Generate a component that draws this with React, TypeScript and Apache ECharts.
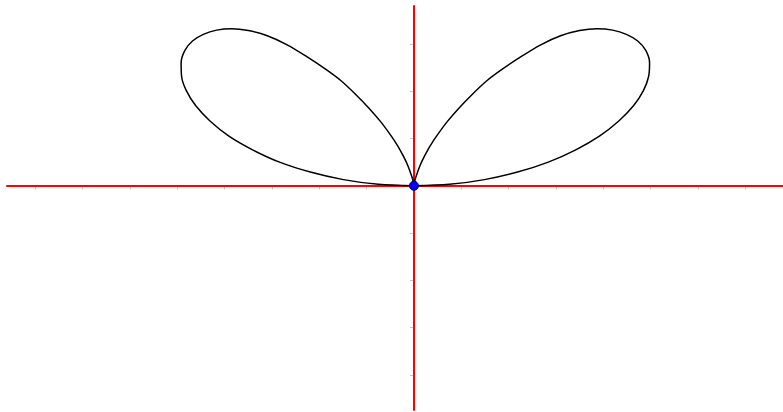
import React, { useEffect, useRef } from "react";
import * as echarts from "echarts";

// Axis extents (units) and tick positions
const xRange = [-8.6, 7.8];
const yRange = [-4.74, 3.8];
const xTicks = [-8, -7, -6, -5, -4, -3, -2, -1, 1, 2, 3, 4, 5, 6, 7];
const yTicks = [-4, -3, -2, -1, 1, 2, 3];

// Curve points (x, y) in axis units
const rightLobe: number[][] = [
  [0, 0], [0.75, 0.03], [1.49, 0.13], [2.19, 0.29], [2.84, 0.5], [3.42, 0.76],
  [3.92, 1.05], [4.33, 1.37], [4.64, 1.69], [4.85, 2.01], [4.96, 2.31],
  [4.98, 2.6], [4.9, 2.86], [4.73, 3.06], [4.49, 3.2], [4.2, 3.29],
  [3.87, 3.32], [3.5, 3.28], [3.1, 3.17], [2.68, 2.98], [2.28, 2.74],
  [1.86, 2.46], [1.54, 2.22], [1.22, 1.92], [0.94, 1.63], [0.7, 1.35],
  [0.5, 1.08], [0.34, 0.84], [0.22, 0.62], [0.13, 0.43], [0.075, 0.28],
  [0.03, 0.15], [0.01, 0.06], [0, 0],
];
const leftLobe: number[][] = [
  [0, 0], [-0.01, 0.06], [-0.03, 0.15], [-0.075, 0.28], [-0.13, 0.43],
  [-0.22, 0.62], [-0.34, 0.84], [-0.5, 1.08], [-0.7, 1.35], [-0.94, 1.63],
  [-1.22, 1.92], [-1.54, 2.22], [-1.86, 2.46], [-2.28, 2.74], [-2.68, 2.98],
  [-3.1, 3.17], [-3.5, 3.28], [-3.85, 3.32], [-4.17, 3.29], [-4.45, 3.2],
  [-4.68, 3.06], [-4.84, 2.86], [-4.92, 2.6], [-4.91, 2.31], [-4.81, 2.01],
  [-4.61, 1.69], [-4.31, 1.37], [-3.91, 1.05], [-3.41, 0.76], [-2.84, 0.5],
  [-2.19, 0.29], [-1.49, 0.13], [-0.75, 0.03], [0, 0],
];
const originPoint: number[][] = [[0, 0]];

export default function App() {
  const ref = useRef<HTMLDivElement>(null);
  useEffect(() => {
    if (!ref.current) return;
    const chart = echarts.init(ref.current, null, { renderer: "svg" });
    const tickStyle = { show: true, length: 4, lineStyle: { color: "#c8c8c8", width: 1 } };
    const redLine = { show: true, onZero: true, lineStyle: { color: "#ff0000", width: 2 } };
    const hiddenLine = { show: false, onZero: true };
    chart.setOption({
      animation: false,
      backgroundColor: "#ffffff",
      grid: { left: 7, right: 0, top: 6, bottom: 2, containLabel: false },
      xAxis: [
        {
          type: "value",
          min: xRange[0],
          max: xRange[1],
          z: 0,
          splitLine: { show: false },
          axisLabel: { show: false },
          axisLine: hiddenLine,
          axisTick: { ...tickStyle, customValues: xTicks },
        },
        {
          type: "value",
          min: xRange[0],
          max: xRange[1],
          position: "bottom",
          z: 2,
          splitLine: { show: false },
          axisLabel: { show: false },
          axisLine: redLine,
          axisTick: { show: false },
        },
      ],
      yAxis: [
        {
          type: "value",
          min: yRange[0],
          max: yRange[1],
          z: 0,
          splitLine: { show: false },
          axisLabel: { show: false },
          axisLine: hiddenLine,
          axisTick: { ...tickStyle, customValues: yTicks },
        },
        {
          type: "value",
          min: yRange[0],
          max: yRange[1],
          position: "left",
          z: 2,
          splitLine: { show: false },
          axisLabel: { show: false },
          axisLine: redLine,
          axisTick: { show: false },
        },
      ],
      series: [
        {
          type: "line",
          data: rightLobe,
          showSymbol: false,
          smooth: 0.3,
          lineStyle: { color: "#000000", width: 1.5 },
          z: 3,
        },
        {
          type: "line",
          data: leftLobe,
          showSymbol: false,
          smooth: 0.3,
          lineStyle: { color: "#000000", width: 1.5 },
          z: 3,
        },
        {
          type: "scatter",
          data: originPoint,
          symbolSize: 9,
          itemStyle: { color: "#0000ff", borderColor: "#00005a", borderWidth: 1, opacity: 1 },
          z: 5,
        },
      ],
    });
    return () => chart.dispose();
  }, []);
  return (
    <div
      ref={ref}
      style={{ position: "fixed", left: 0, top: 0, width: 783, height: 412 }}
    />
  );
}
